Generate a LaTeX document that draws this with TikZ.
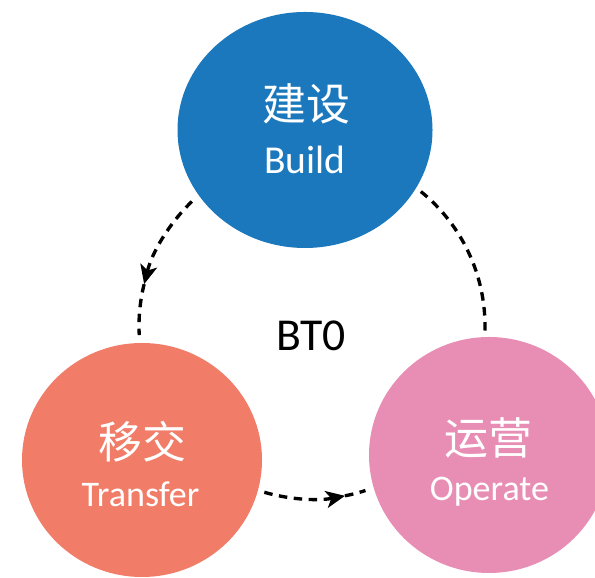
\documentclass[tikz,border=0pt]{standalone}
\usepackage{fontspec}
\setmainfont{Carlito}
\newfontfamily\cjk{Noto Sans CJK SC}
\usepackage{xcolor}
\usetikzlibrary{shapes.geometric,arrows.meta}

\definecolor{buildblue}{HTML}{1C78BC}
\definecolor{transsalmon}{HTML}{F17C68}
\definecolor{operpink}{HTML}{E88EB5}

\begin{document}
\begin{tikzpicture}[
  phase/.style={ellipse,inner sep=0pt},
  zh/.style={text=white,font=\cjk\fontsize{25}{30}\selectfont},
  en/.style={text=white,anchor=base,font=\fontsize{20.5}{24}\selectfont},
  loop/.style={dashed,dash pattern=on 0.17cm off 0.13cm,line width=1.9pt},
  looptip/.style={loop,-{Stealth[length=0.38cm,width=0.34cm,inset=0.1cm]}}
]
\useasboundingbox (0,0) rectangle (11.9,11.56);

 \coordinate (ring) at (6.24,5.04);

\node [phase,fill=buildblue,minimum width=5.10cm,minimum height=4.72cm] (build) at (6.10,8.96) {};
\node [phase,fill=transsalmon,minimum width=4.80cm,minimum height=4.68cm] (transfer) at (2.84,2.36) {};
\node [phase,fill=operpink,minimum width=4.80cm,minimum height=4.72cm] (operate) at (9.78,2.46) {};

% dashed ring between the three phases
\draw[looptip] ([shift={(134:3.46)}]ring) arc[start angle=134,end angle=166,radius=3.46];
\draw[loop] ([shift={(166:3.46)}]ring) arc[start angle=166,end angle=183,radius=3.46];
\draw[loop] ([shift={(51:3.46)}]ring) arc[start angle=51,end angle=-2,radius=3.46];
\draw[looptip] ([shift={(254:3.46)}]ring) arc[start angle=254,end angle=281,radius=3.46];
\draw[loop] ([shift={(281:3.46)}]ring) arc[start angle=281,end angle=288,radius=3.46];

\node [zh] (buildzh) at (6.12,9.48) {建设};
\node [en,font=\fontsize{22.5}{26}\selectfont] (builden) at (6.10,8.08) {Build};
\node [zh] (transferzh) at (2.84,2.72) {移交};
\node [en] (transferen) at (2.81,1.42) {Transfer};
\node [zh] (operatezh) at (9.77,2.80) {运营};
\node [en] (operateen) at (9.79,1.54) {Operate};

\node [anchor=base,font=\fontsize{26}{30}\selectfont] (bto) at (6.22,4.54) {BT0};

\end{tikzpicture}
\end{document}
